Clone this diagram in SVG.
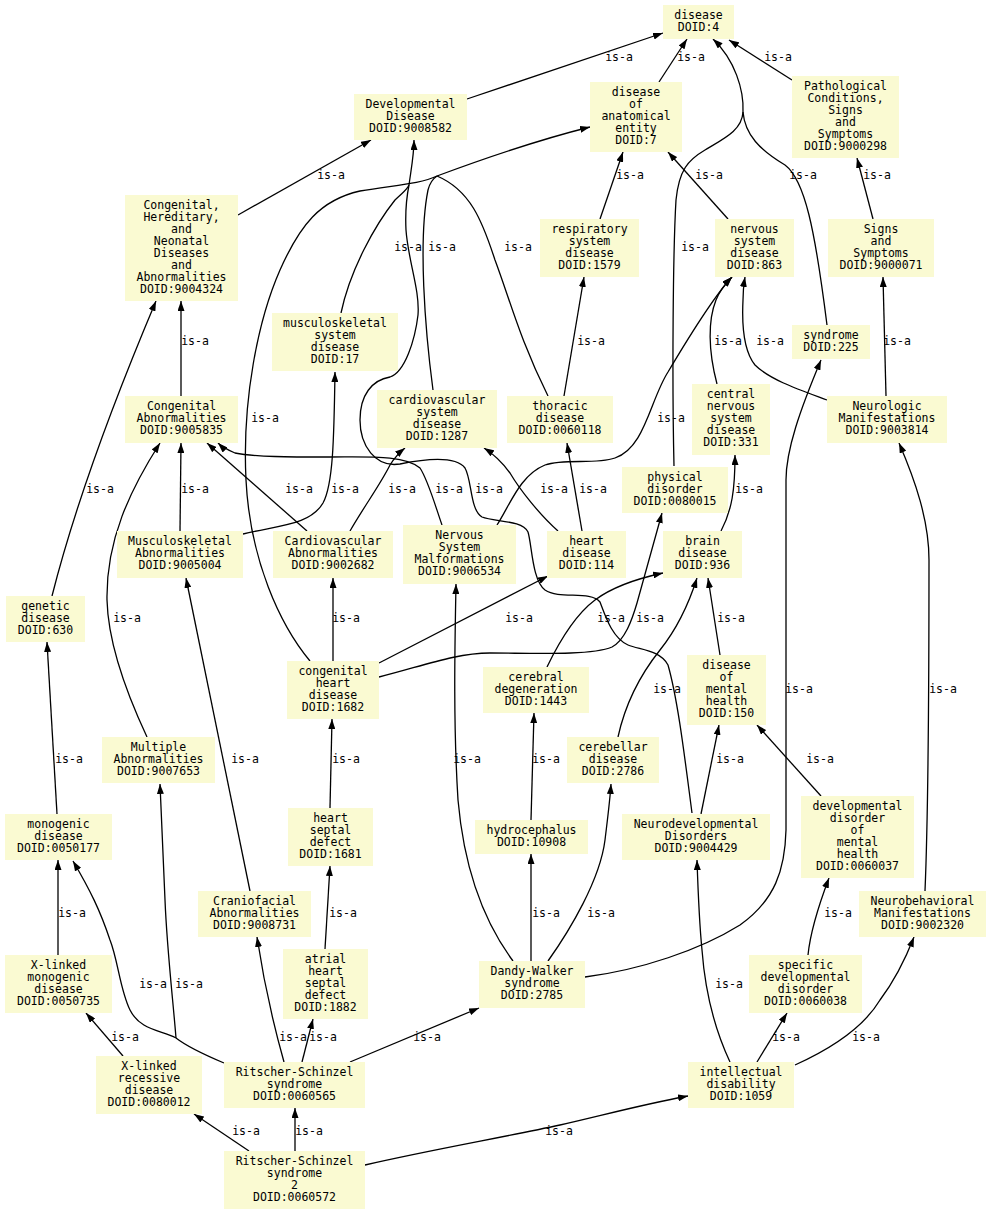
<svg xmlns="http://www.w3.org/2000/svg" width="991" height="1215" viewBox="0 0 991 1215">
<defs>
<marker id="ah" viewBox="0 0 10 7" refX="10" refY="3.5" markerWidth="10" markerHeight="7" markerUnits="userSpaceOnUse" orient="auto"><path d="M0,0 L10,3.5 L0,7 z" fill="#000"/></marker>
<style>
.n rect{fill:#fafad2;stroke:none}
text{font-family:"DejaVu Sans Mono","Liberation Mono",monospace;font-size:11.5px;fill:#000;text-anchor:middle}
.e path{fill:none;stroke:#000;stroke-width:1.3}
.e path.a{marker-end:url(#ah)}
</style>
</defs>
<rect width="991" height="1215" fill="#fff"/>
<g class="e" id="connectors">
<path class="a" d="M467,99 L663,33"/>
<path class="a" d="M659,82 L687,39"/>
<path class="a" d="M792,80 L729,40"/>
<path class="a" d="M743,112 C744,90 735,60 713,39"/>
<path d="M674,466 C672,380 673,250 676,200 C679,170 688,160 705,150 C725,138 742,130 743,112"/>
<path d="M743,112 C745,135 760,150 785,165 C805,180 815,230 827,325"/>
<path class="a" d="M873,219 L857,158"/>
<path class="a" d="M238,215 L371,140"/>
<path class="a" d="M600,219 L623,152"/>
<path class="a" d="M728,219 L668,152"/>
<path class="a" d="M437,176 C480,160 530,142 590,127"/>
<path d="M433,390 C425,330 418,240 428,190 C430,182 434,178 437,176"/>
<path d="M548,396 C520,340 510,300 495,260 C482,220 470,190 437,176"/>
<path d="M310,661 C280,625 250,560 246,480 C242,400 258,320 280,270 C300,225 320,200 360,191 C395,185 420,184 437,176"/>
<path class="a" d="M409,185 C411,170 414,155 414,140"/>
<path d="M341,313 C350,270 375,225 395,200 C403,192 407,190 409,185"/>
<path d="M692,813 C685,760 678,700 668,665 C660,650 640,650 628,645 C612,638 605,615 600,602 C590,590 560,600 545,590 C532,580 532,545 528,532 C522,520 495,522 482,517 C470,510 472,480 465,468 C455,455 420,460 400,464 C375,468 360,445 360,420 C360,395 372,380 390,377 C405,372 415,340 418,315 C420,290 408,260 406,230 C405,210 407,195 409,185"/>
<path class="a" d="M886,396 L883,277"/>
<path class="a" d="M717,384 C708,350 708,320 716,300 C720,290 726,283 732,277"/>
<path class="a" d="M497,525 C510,505 520,475 545,465 C565,458 595,465 615,458 C645,448 650,400 668,372 C690,335 715,295 732,277"/>
<path class="a" d="M827,400 C800,390 770,380 755,365 C743,350 742,320 743,300 C743,290 744,283 745,277"/>
<path class="a" d="M564,396 L584,277"/>
<path class="a" d="M181,396 L181,301"/>
<path class="a" d="M52,596 C75,505 110,410 156,301"/>
<path class="a" d="M180,531 L181,443"/>
<path class="a" d="M307,531 L207,443"/>
<path class="a" d="M147,737 C125,690 108,640 107,600 C106,540 130,490 160,443"/>
<path class="a" d="M442,525 C435,505 428,480 420,468 C405,455 370,457 330,457 C290,457 255,457 235,453 C228,450 222,447 218,443"/>
<path class="a" d="M243,534 C280,525 310,525 323,503 C333,485 334,440 335,372"/>
<path class="a" d="M350,531 C365,505 380,485 390,465 C395,457 400,452 405,448"/>
<path class="a" d="M558,531 C540,515 520,490 510,473 C502,462 495,455 484,448"/>
<path class="a" d="M582,531 L567,443"/>
<path class="a" d="M721,531 C732,510 735,490 735,455"/>
<path class="a" d="M333,661 L333,578"/>
<path class="a" d="M379,663 L548,576"/>
<path class="a" d="M379,677 C420,667 455,653 490,653 C530,653 590,656 612,647 C625,640 632,620 637,603 L662,513"/>
<path class="a" d="M547,667 C560,640 575,615 595,600 C615,585 640,578 663,573"/>
<path class="a" d="M618,737 C625,705 640,675 660,650 C680,625 690,600 697,578"/>
<path class="a" d="M720,655 L708,578"/>
<path class="a" d="M57,814 L47,642"/>
<path class="a" d="M250,891 C235,820 210,700 186,578"/>
<path class="a" d="M330,808 L332,719"/>
<path class="a" d="M513,961 C490,930 465,880 458,800 C453,720 455,640 456,584"/>
<path class="a" d="M531,820 L534,713"/>
<path class="a" d="M701,814 L719,725"/>
<path class="a" d="M821,796 L757,725"/>
<path class="a" d="M585,977 C640,970 700,950 740,925 C775,900 785,870 786,830 L786,480 C786,450 800,410 821,360"/>
<path class="a" d="M925,891 C928,820 929,700 929,560 C929,520 915,480 899,443"/>
<path class="a" d="M58,955 L58,860"/>
<path d="M224,1063 C205,1055 185,1045 176,1038"/>
<path class="a" d="M176,1038 C160,1030 140,1030 130,1010 C120,990 118,960 110,940 C100,910 90,890 73,861"/>
<path class="a" d="M176,1038 C173,1000 167,950 165,900 C163,850 161,810 160,784"/>
<path class="a" d="M325,949 L330,866"/>
<path class="a" d="M531,961 L531,854"/>
<path class="a" d="M548,961 C570,930 600,880 605,840 C608,815 610,800 611,784"/>
<path class="a" d="M808,955 C810,935 815,915 829,878"/>
<path class="a" d="M730,1062 C715,1030 705,990 702,950 C699,920 698,890 697,860"/>
<path class="a" d="M123,1056 L86,1013"/>
<path class="a" d="M284,1062 C275,1030 265,990 257,937"/>
<path class="a" d="M302,1062 L313,1019"/>
<path class="a" d="M350,1062 L479,1008"/>
<path class="a" d="M757,1062 L787,1013"/>
<path class="a" d="M795,1065 C835,1047 865,1025 880,1000 C895,980 905,960 914,937"/>
<path class="a" d="M249,1151 L194,1114"/>
<path class="a" d="M295,1151 L295,1108"/>
<path class="a" d="M365,1165 C430,1150 500,1138 560,1125 C600,1116 640,1105 688,1096"/>
</g>
<g id="labels">
<text x="619" y="61">is-a</text><text x="691" y="61">is-a</text><text x="778" y="61">is-a</text>
<text x="331" y="179">is-a</text><text x="630" y="179">is-a</text><text x="709" y="179">is-a</text><text x="803" y="179">is-a</text><text x="877" y="179">is-a</text>
<text x="408" y="251">is-a</text><text x="442" y="251">is-a</text><text x="518" y="251">is-a</text><text x="695" y="251">is-a</text>
<text x="195" y="345">is-a</text><text x="591" y="345">is-a</text><text x="728" y="345">is-a</text><text x="770" y="345">is-a</text><text x="897" y="345">is-a</text>
<text x="265" y="422">is-a</text><text x="671" y="422">is-a</text>
<text x="100" y="493">is-a</text><text x="195" y="493">is-a</text><text x="299" y="493">is-a</text><text x="345" y="493">is-a</text><text x="402" y="493">is-a</text><text x="449" y="493">is-a</text><text x="489" y="493">is-a</text><text x="554" y="493">is-a</text><text x="593" y="493">is-a</text><text x="749" y="493">is-a</text>
<text x="127" y="622">is-a</text><text x="346" y="622">is-a</text><text x="519" y="622">is-a</text><text x="611" y="622">is-a</text><text x="650" y="622">is-a</text><text x="731" y="622">is-a</text>
<text x="667" y="693">is-a</text><text x="799" y="693">is-a</text><text x="943" y="693">is-a</text>
<text x="69" y="763">is-a</text><text x="245" y="763">is-a</text><text x="346" y="763">is-a</text><text x="467" y="763">is-a</text><text x="546" y="763">is-a</text><text x="730" y="763">is-a</text><text x="820" y="763">is-a</text>
<text x="72" y="917">is-a</text><text x="343" y="917">is-a</text><text x="546" y="917">is-a</text><text x="601" y="917">is-a</text><text x="838" y="917">is-a</text>
<text x="153" y="988">is-a</text><text x="189" y="988">is-a</text><text x="729" y="988">is-a</text>
<text x="125" y="1041">is-a</text><text x="293" y="1041">is-a</text><text x="323" y="1041">is-a</text><text x="427" y="1041">is-a</text><text x="786" y="1041">is-a</text><text x="866" y="1041">is-a</text>
<text x="246" y="1135">is-a</text><text x="309" y="1135">is-a</text><text x="559" y="1135">is-a</text>
</g>
<g class="n" id="n_disease"><rect x="663" y="5" width="71" height="34"/><text x="698.5" y="19">disease<tspan x="698.5" dy="12">DOID:4</tspan></text></g>
<g class="n" id="n_devdisease"><rect x="354" y="94" width="113" height="46"/><text x="410.5" y="108">Developmental<tspan x="410.5" dy="12">Disease</tspan><tspan x="410.5" dy="12">DOID:9008582</tspan></text></g>
<g class="n" id="n_doae"><rect x="590" y="82" width="92" height="70"/><text x="636" y="96">disease<tspan x="636" dy="12">of</tspan><tspan x="636" dy="12">anatomical</tspan><tspan x="636" dy="12">entity</tspan><tspan x="636" dy="12">DOID:7</tspan></text></g>
<g class="n" id="n_path"><rect x="792" y="76" width="107" height="82"/><text x="845.5" y="90">Pathological<tspan x="845.5" dy="12">Conditions,</tspan><tspan x="845.5" dy="12">Signs</tspan><tspan x="845.5" dy="12">and</tspan><tspan x="845.5" dy="12">Symptoms</tspan><tspan x="845.5" dy="12">DOID:9000298</tspan></text></g>
<g class="n" id="n_chnda"><rect x="125" y="195" width="113" height="106"/><text x="181.5" y="209">Congenital,<tspan x="181.5" dy="12">Hereditary,</tspan><tspan x="181.5" dy="12">and</tspan><tspan x="181.5" dy="12">Neonatal</tspan><tspan x="181.5" dy="12">Diseases</tspan><tspan x="181.5" dy="12">and</tspan><tspan x="181.5" dy="12">Abnormalities</tspan><tspan x="181.5" dy="12">DOID:9004324</tspan></text></g>
<g class="n" id="n_resp"><rect x="540" y="219" width="99" height="58"/><text x="589.5" y="233">respiratory<tspan x="589.5" dy="12">system</tspan><tspan x="589.5" dy="12">disease</tspan><tspan x="589.5" dy="12">DOID:1579</tspan></text></g>
<g class="n" id="n_nsd"><rect x="715" y="219" width="79" height="58"/><text x="754.5" y="233">nervous<tspan x="754.5" dy="12">system</tspan><tspan x="754.5" dy="12">disease</tspan><tspan x="754.5" dy="12">DOID:863</tspan></text></g>
<g class="n" id="n_ss"><rect x="828" y="219" width="106" height="58"/><text x="881" y="233">Signs<tspan x="881" dy="12">and</tspan><tspan x="881" dy="12">Symptoms</tspan><tspan x="881" dy="12">DOID:9000071</tspan></text></g>
<g class="n" id="n_mss"><rect x="272" y="313" width="126" height="58"/><text x="335" y="327">musculoskeletal<tspan x="335" dy="12">system</tspan><tspan x="335" dy="12">disease</tspan><tspan x="335" dy="12">DOID:17</tspan></text></g>
<g class="n" id="n_syndrome"><rect x="792" y="325" width="78" height="34"/><text x="831" y="339">syndrome<tspan x="831" dy="12">DOID:225</tspan></text></g>
<g class="n" id="n_ca"><rect x="125" y="396" width="113" height="47"/><text x="181.5" y="410">Congenital<tspan x="181.5" dy="12">Abnormalities</tspan><tspan x="181.5" dy="12">DOID:9005835</tspan></text></g>
<g class="n" id="n_cvsd"><rect x="377" y="390" width="120" height="58"/><text x="437" y="404">cardiovascular<tspan x="437" dy="12">system</tspan><tspan x="437" dy="12">disease</tspan><tspan x="437" dy="12">DOID:1287</tspan></text></g>
<g class="n" id="n_thoracic"><rect x="507" y="396" width="106" height="47"/><text x="560" y="410">thoracic<tspan x="560" dy="12">disease</tspan><tspan x="560" dy="12">DOID:0060118</tspan></text></g>
<g class="n" id="n_cns"><rect x="692" y="384" width="78" height="71"/><text x="731" y="398">central<tspan x="731" dy="12">nervous</tspan><tspan x="731" dy="12">system</tspan><tspan x="731" dy="12">disease</tspan><tspan x="731" dy="12">DOID:331</tspan></text></g>
<g class="n" id="n_nm"><rect x="827" y="396" width="120" height="47"/><text x="887" y="410">Neurologic<tspan x="887" dy="12">Manifestations</tspan><tspan x="887" dy="12">DOID:9003814</tspan></text></g>
<g class="n" id="n_physical"><rect x="622" y="467" width="106" height="46"/><text x="675" y="481">physical<tspan x="675" dy="12">disorder</tspan><tspan x="675" dy="12">DOID:0080015</tspan></text></g>
<g class="n" id="n_musabn"><rect x="117" y="531" width="126" height="47"/><text x="180" y="545">Musculoskeletal<tspan x="180" dy="12">Abnormalities</tspan><tspan x="180" dy="12">DOID:9005004</tspan></text></g>
<g class="n" id="n_cvabn"><rect x="273" y="531" width="120" height="47"/><text x="333" y="545">Cardiovascular<tspan x="333" dy="12">Abnormalities</tspan><tspan x="333" dy="12">DOID:9002682</tspan></text></g>
<g class="n" id="n_nsm"><rect x="403" y="525" width="113" height="59"/><text x="459.5" y="539">Nervous<tspan x="459.5" dy="12">System</tspan><tspan x="459.5" dy="12">Malformations</tspan><tspan x="459.5" dy="12">DOID:9006534</tspan></text></g>
<g class="n" id="n_heart"><rect x="547" y="531" width="79" height="47"/><text x="586.5" y="545">heart<tspan x="586.5" dy="12">disease</tspan><tspan x="586.5" dy="12">DOID:114</tspan></text></g>
<g class="n" id="n_brain"><rect x="663" y="531" width="79" height="47"/><text x="702.5" y="545">brain<tspan x="702.5" dy="12">disease</tspan><tspan x="702.5" dy="12">DOID:936</tspan></text></g>
<g class="n" id="n_genetic"><rect x="6" y="596" width="79" height="46"/><text x="45.5" y="610">genetic<tspan x="45.5" dy="12">disease</tspan><tspan x="45.5" dy="12">DOID:630</tspan></text></g>
<g class="n" id="n_chd"><rect x="287" y="661" width="92" height="58"/><text x="333" y="675">congenital<tspan x="333" dy="12">heart</tspan><tspan x="333" dy="12">disease</tspan><tspan x="333" dy="12">DOID:1682</tspan></text></g>
<g class="n" id="n_cerebral"><rect x="483" y="667" width="106" height="46"/><text x="536" y="681">cerebral<tspan x="536" dy="12">degeneration</tspan><tspan x="536" dy="12">DOID:1443</tspan></text></g>
<g class="n" id="n_domh"><rect x="687" y="655" width="79" height="70"/><text x="726.5" y="669">disease<tspan x="726.5" dy="12">of</tspan><tspan x="726.5" dy="12">mental</tspan><tspan x="726.5" dy="12">health</tspan><tspan x="726.5" dy="12">DOID:150</tspan></text></g>
<g class="n" id="n_multiple"><rect x="102" y="737" width="113" height="46"/><text x="158.5" y="751">Multiple<tspan x="158.5" dy="12">Abnormalities</tspan><tspan x="158.5" dy="12">DOID:9007653</tspan></text></g>
<g class="n" id="n_cerebellar"><rect x="567" y="737" width="92" height="46"/><text x="613" y="751">cerebellar<tspan x="613" dy="12">disease</tspan><tspan x="613" dy="12">DOID:2786</tspan></text></g>
<g class="n" id="n_monogenic"><rect x="5" y="814" width="107" height="46"/><text x="58.5" y="828">monogenic<tspan x="58.5" dy="12">disease</tspan><tspan x="58.5" dy="12">DOID:0050177</tspan></text></g>
<g class="n" id="n_hsd"><rect x="288" y="808" width="85" height="58"/><text x="330.5" y="822">heart<tspan x="330.5" dy="12">septal</tspan><tspan x="330.5" dy="12">defect</tspan><tspan x="330.5" dy="12">DOID:1681</tspan></text></g>
<g class="n" id="n_hydro"><rect x="475" y="820" width="113" height="34"/><text x="531.5" y="834">hydrocephalus<tspan x="531.5" dy="12">DOID:10908</tspan></text></g>
<g class="n" id="n_neurodev"><rect x="622" y="814" width="148" height="46"/><text x="696" y="828">Neurodevelopmental<tspan x="696" dy="12">Disorders</tspan><tspan x="696" dy="12">DOID:9004429</tspan></text></g>
<g class="n" id="n_ddomh"><rect x="801" y="796" width="113" height="82"/><text x="857.5" y="810">developmental<tspan x="857.5" dy="12">disorder</tspan><tspan x="857.5" dy="12">of</tspan><tspan x="857.5" dy="12">mental</tspan><tspan x="857.5" dy="12">health</tspan><tspan x="857.5" dy="12">DOID:0060037</tspan></text></g>
<g class="n" id="n_cranio"><rect x="198" y="891" width="113" height="46"/><text x="254.5" y="905">Craniofacial<tspan x="254.5" dy="12">Abnormalities</tspan><tspan x="254.5" dy="12">DOID:9008731</tspan></text></g>
<g class="n" id="n_nb"><rect x="859" y="891" width="127" height="46"/><text x="922.5" y="905">Neurobehavioral<tspan x="922.5" dy="12">Manifestations</tspan><tspan x="922.5" dy="12">DOID:9002320</tspan></text></g>
<g class="n" id="n_ahsd"><rect x="283" y="949" width="85" height="70"/><text x="325.5" y="963">atrial<tspan x="325.5" dy="12">heart</tspan><tspan x="325.5" dy="12">septal</tspan><tspan x="325.5" dy="12">defect</tspan><tspan x="325.5" dy="12">DOID:1882</tspan></text></g>
<g class="n" id="n_xlm"><rect x="5" y="955" width="107" height="58"/><text x="58.5" y="969">X-linked<tspan x="58.5" dy="12">monogenic</tspan><tspan x="58.5" dy="12">disease</tspan><tspan x="58.5" dy="12">DOID:0050735</tspan></text></g>
<g class="n" id="n_dw"><rect x="479" y="961" width="106" height="47"/><text x="532" y="975">Dandy-Walker<tspan x="532" dy="12">syndrome</tspan><tspan x="532" dy="12">DOID:2785</tspan></text></g>
<g class="n" id="n_sdd"><rect x="749" y="955" width="113" height="58"/><text x="805.5" y="969">specific<tspan x="805.5" dy="12">developmental</tspan><tspan x="805.5" dy="12">disorder</tspan><tspan x="805.5" dy="12">DOID:0060038</tspan></text></g>
<g class="n" id="n_xlr"><rect x="96" y="1056" width="106" height="58"/><text x="149" y="1070">X-linked<tspan x="149" dy="12">recessive</tspan><tspan x="149" dy="12">disease</tspan><tspan x="149" dy="12">DOID:0080012</tspan></text></g>
<g class="n" id="n_rs"><rect x="224" y="1062" width="141" height="46"/><text x="294.5" y="1076">Ritscher-Schinzel<tspan x="294.5" dy="12">syndrome</tspan><tspan x="294.5" dy="12">DOID:0060565</tspan></text></g>
<g class="n" id="n_id"><rect x="688" y="1062" width="106" height="46"/><text x="741" y="1076">intellectual<tspan x="741" dy="12">disability</tspan><tspan x="741" dy="12">DOID:1059</tspan></text></g>
<g class="n" id="n_rs2"><rect x="224" y="1151" width="141" height="58"/><text x="294.5" y="1165">Ritscher-Schinzel<tspan x="294.5" dy="12">syndrome</tspan><tspan x="294.5" dy="12">2</tspan><tspan x="294.5" dy="12">DOID:0060572</tspan></text></g>
</svg>
